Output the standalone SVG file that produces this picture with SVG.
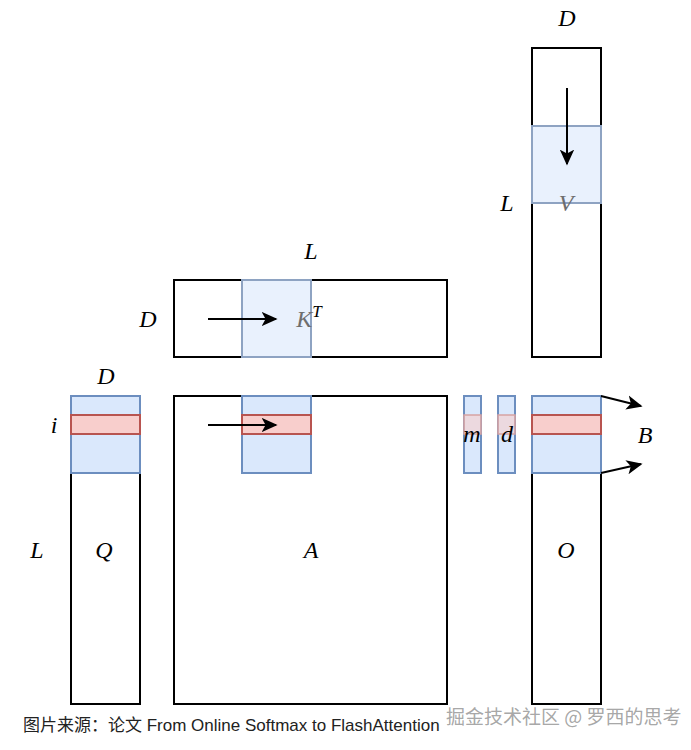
<svg xmlns="http://www.w3.org/2000/svg" width="691" height="750" viewBox="0 0 691 750">
<style>
.frame{fill:none;stroke:#000;stroke-width:2}
.blue{fill:#dae8fc;stroke:#6c8ebf;stroke-width:2}
.red{fill:#f8cecc;stroke:#b85450;stroke-width:2}
.ghost{fill:#dae8fc;fill-opacity:0.6;stroke:#8ea3c2;stroke-width:2}
.ghostred{fill:#f8cecc;fill-opacity:0.6;stroke:#d6a3a3;stroke-width:1.5}
.m{font-family:"Liberation Serif","DejaVu Serif",serif;font-style:italic;font-size:24px;fill:#000;text-anchor:middle}
.g{fill:#6e6e6e}
.arrow{stroke:#000;stroke-width:2;fill:none;marker-end:url(#ah)}
.cap{font-family:"Liberation Sans","Noto Sans CJK SC",sans-serif;font-size:17px;fill:#222}
.wm{font-family:"Noto Sans CJK SC","Liberation Sans",sans-serif;font-size:19px;fill:#9c9c9c;fill-opacity:0.9}
</style>
<defs>
<marker id="ah" viewBox="0 0 10 10" refX="9" refY="5" markerWidth="8" markerHeight="8" orient="auto" markerUnits="strokeWidth">
<path d="M0,0.5 L10,5 L0,9.5 L2.5,5 Z" fill="#000"/>
</marker>
</defs>

<g id="V">
<rect class="frame" x="532" y="48" width="69" height="309"/>
<rect class="ghost" x="532" y="126" width="69" height="77"/>
<text class="m g" x="566" y="211">V</text>
</g>

<g id="KT">
<rect class="frame" x="174" y="280" width="273" height="77"/>
<rect class="ghost" x="242" y="280" width="69" height="77"/>
<text class="m" x="309" y="327"><tspan class="g">K</tspan><tspan font-size="17" dy="-10">T</tspan></text>
</g>

<g id="Q">
<rect class="frame" x="71" y="396" width="69" height="308"/>
<rect class="blue" x="71" y="396" width="69" height="77"/>
<rect class="red" x="71" y="415" width="69" height="19"/>
<text class="m" x="104" y="558">Q</text>
</g>

<g id="A">
<rect class="frame" x="174" y="396" width="273" height="308"/>
<rect class="blue" x="242" y="396" width="69" height="77"/>
<rect class="red" x="242" y="415" width="69" height="19"/>
<text class="m" x="311" y="558">A</text>
</g>

<g id="m">
<rect class="blue" x="464" y="396" width="17" height="77"/>
<rect class="ghostred" x="464" y="415" width="17" height="19"/>
<text class="m" x="472" y="442" font-size="20">m</text>
</g>

<g id="d">
<rect class="blue" x="498" y="396" width="17" height="77"/>
<rect class="ghostred" x="498" y="415" width="17" height="19"/>
<text class="m" x="507" y="442" font-size="20">d</text>
</g>

<g id="O">
<rect class="frame" x="532" y="396" width="69" height="308"/>
<rect class="blue" x="532" y="396" width="69" height="77"/>
<rect class="red" x="532" y="415" width="69" height="19"/>
<text class="m" x="566" y="558">O</text>
</g>

<g id="labels">
<text class="m" x="567" y="26">D</text>
<text class="m" x="507" y="211">L</text>
<text class="m" x="311" y="259">L</text>
<text class="m" x="148" y="327">D</text>
<text class="m" x="106" y="384">D</text>
<text class="m" x="54" y="433">i</text>
<text class="m" x="37" y="558">L</text>
<text class="m" x="645" y="443">B</text>
</g>

<g id="connectors">
<line class="arrow" x1="208" y1="319" x2="276" y2="319"/>
<line class="arrow" x1="208" y1="425" x2="276" y2="425"/>
<line class="arrow" x1="567" y1="88" x2="567" y2="164"/>
<line class="arrow" x1="601" y1="396" x2="641" y2="406"/>
<line class="arrow" x1="601" y1="473" x2="641" y2="464"/>
</g>

<text class="cap" x="23" y="731">图片来源：论文 From Online Softmax to FlashAttention</text>
<text class="wm" x="446" y="724">掘金技术社区 @ 罗西的思考</text>
</svg>
